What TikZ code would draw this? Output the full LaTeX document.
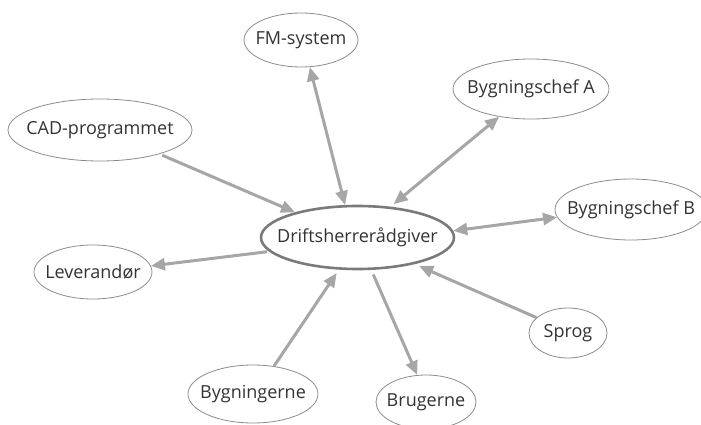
\documentclass[tikz,border=0pt]{standalone}
\usepackage{fontspec}
\setmainfont{Open Sans}
\usetikzlibrary{shapes.geometric,arrows.meta}
\definecolor{linkgray}{HTML}{A6A6A6}
\definecolor{rimgray}{HTML}{8C8C8C}
\definecolor{hubgray}{HTML}{7A7A7A}
\definecolor{inkgray}{HTML}{333333}
\begin{document}
\begin{tikzpicture}[x=1pt,y=-1pt,
  % the ellipse keeps its given size; the caption sits centred on top of it
  topic/.style={ellipse,draw=rimgray,line width=0.8pt,fill=white,inner sep=0pt,
    label={[caption]center:#1}},
  caption/.style={inner sep=0pt,text=inkgray,font=\fontsize{18}{21}\selectfont},
  hub/.style={topic=#1,draw=hubgray,line width=2.6pt},
  link/.style={draw=linkgray,line width=3pt,
    -{Triangle[length=14pt,width=12pt]}},
  twoway/.style={link,{Triangle[length=14pt,width=12pt]}-{Triangle[length=14pt,width=12pt]}}]
\useasboundingbox (0,0) rectangle (701,425);

% nodes
\node[hub=Driftsherrerådgiver,minimum width=193pt,minimum height=63pt] (drift) at (357.5,237.5) {};
\node[topic=FM-system,minimum width=114pt,minimum height=54pt] (fm) at (301,40) {};
\node[topic=Bygningschef A,minimum width=156pt,minimum height=60pt] (bca) at (531,89) {};
\node[topic=Bygningschef B,minimum width=152pt,minimum height=61pt] (bcb) at (631,209.5) {};
\node[topic=CAD-programmet,minimum width=184pt,minimum height=62pt] (cad) at (100,130) {};
\node[topic=Leverandør,minimum width=118pt,minimum height=54pt] (lev) at (93,272) {};
\node[topic=Sprog,minimum width=78pt,minimum height=50pt] (sprog) at (568,333) {};
\node[topic=Bygningerne,minimum width=130pt,minimum height=58pt] (byg) at (253,394) {};
\node[topic=Brugerne,minimum width=100pt,minimum height=54pt] (brug) at (426,402) {};

% connectors
\draw[twoway] (drift.111) -- (fm.-72);
\draw[twoway,shorten <=4pt] (drift.43) -- (bca.-139);
\draw[twoway] (drift.4.5) -- (bcb.186);
\draw[link,shorten <=3pt] (cad.-22) -- (drift.158);
\draw[link,shorten <=2pt] (drift.-171) -- (lev.6);
\draw[link,shorten >=4pt] (byg.53) -- (drift.-120);
\draw[link,shorten <=5pt] (drift.-67) -- (brug.108);
\draw[link,shorten >=5pt] (sprog.154) -- (drift.-25);
\end{tikzpicture}
\end{document}
